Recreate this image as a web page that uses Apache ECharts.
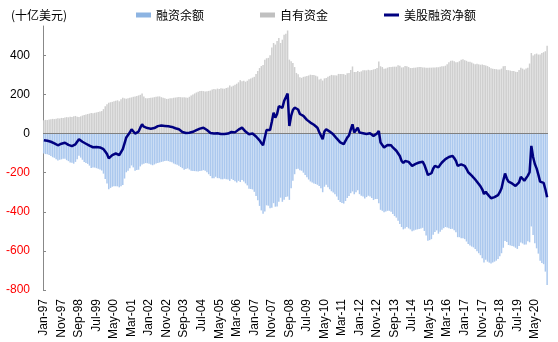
<!DOCTYPE html>
<html>
<head>
<meta charset="utf-8">
<script src="https://cdn.jsdelivr.net/npm/echarts@6/dist/echarts.min.js"></script>
<style>
html,body{margin:0;padding:0;background:#fff;}
#chart{width:558px;height:342px;}
</style>
</head>
<body>
<div id="chart"></div>
<script>
// Month labels Jan-97 ... Dec-20
const monthNames = ['Jan','Feb','Mar','Apr','May','Jun','Jul','Aug','Sep','Oct','Nov','Dec'];
const categories = [];
for (let y = 1997; y <= 2020; y++) {
  for (let m = 0; m < 12; m++) categories.push(monthNames[m] + '-' + String(y % 100).padStart(2, '0'));
}

const yTicks = [-800, -600, -400, -200, 0, 200, 400];

// 融资余额 (十亿美元, negative)
const marginDebt = [
-102,-105,-106,-110,-115,-121,-124,-131,-138,-134,-132,-129,
-129,-136,-141,-148,-149,-154,-145,-131,-113,-123,-134,-145,
-150,-155,-164,-176,-174,-174,-177,-180,-184,-189,-205,-232,
-255,-285,-278,-272,-270,-270,-270,-275,-270,-263,-230,-198,
-190,-178,-163,-173,-190,-187,-185,-168,-158,-155,-151,-152,
-154,-158,-162,-158,-153,-151,-148,-145,-143,-141,-139,-141,
-144,-147,-153,-157,-160,-165,-171,-177,-185,-181,-178,-184,
-190,-191,-192,-193,-194,-192,-190,-187,-190,-198,-208,-217,
-229,-228,-221,-228,-228,-234,-234,-231,-234,-235,-242,-232,
-237,-244,-250,-242,-248,-238,-245,-255,-265,-282,-284,-286,
-298,-320,-341,-370,-393,-410,-398,-367,-369,-382,-380,-356,
-374,-373,-349,-328,-349,-339,-325,-322,-339,-280,-241,-208,
-182,-180,-188,-190,-200,-212,-224,-235,-245,-250,-255,-258,
-262,-268,-280,-300,-272,-262,-275,-285,-295,-302,-310,-322,
-340,-350,-355,-358,-345,-330,-320,-305,-296,-310,-300,-290,
-310,-318,-322,-332,-325,-318,-322,-330,-340,-335,-335,-356,
-390,-395,-402,-398,-395,-395,-400,-412,-422,-430,-446,-462,
-478,-490,-485,-478,-485,-490,-500,-496,-492,-490,-488,-486,
-482,-498,-522,-548,-545,-540,-518,-503,-495,-512,-502,-492,
-484,-478,-480,-484,-488,-487,-495,-505,-530,-530,-535,-536,
-540,-552,-565,-572,-578,-582,-590,-602,-612,-622,-638,-660,
-645,-655,-660,-665,-660,-655,-650,-642,-628,-612,-584,-550,
-555,-570,-572,-575,-578,-584,-590,-575,-557,-562,-568,-568,
-551,-556,-475,-519,-561,-587,-614,-650,-662,-668,-706,-775
];

// 自有资金 (十亿美元)
const freeCredit = [
68,70,69,72,73,75,74,76,78,77,80,79,
82,84,83,86,85,88,90,86,84,88,92,95,
98,100,102,105,104,106,108,110,113,115,125,140,
150,158,160,162,165,168,170,165,175,183,180,178,
180,183,185,188,190,192,195,198,205,190,181,180,
182,183,184,186,188,189,190,186,183,180,177,178,
180,181,183,184,185,187,186,185,185,184,183,188,
195,200,205,210,214,217,218,217,215,216,218,220,
225,228,226,230,228,232,230,229,233,235,246,240,
245,250,255,262,273,268,270,265,270,278,282,286,
290,305,320,335,345,350,378,385,387,400,440,463,
455,473,489,463,480,505,510,527,378,370,361,340,
310,303,288,285,290,292,294,297,301,300,300,296,
292,276,280,271,282,284,290,295,300,298,298,297,
305,305,305,304,300,309,310,325,343,315,315,320,
315,318,324,324,323,326,324,325,328,330,335,369,
344,340,331,333,337,340,340,341,342,342,349,347,
338,339,345,344,340,335,335,336,337,339,340,340,
338,338,337,336,337,337,338,338,339,339,342,344,
344,347,355,364,372,373,370,365,365,370,377,380,
375,372,367,367,363,358,355,357,354,352,353,351,
348,345,340,334,332,330,329,327,328,332,344,346,
325,324,322,320,320,316,315,325,336,332,327,333,
336,358,412,399,405,409,404,404,412,416,421,449
];

// 美股融资净额 (十亿美元)
const netBalance = [
-34,-35,-37,-38,-42,-46,-50,-55,-60,-57,-52,-50,
-47,-52,-58,-62,-64,-66,-55,-45,-29,-35,-42,-50,
-52,-55,-62,-71,-70,-68,-69,-70,-71,-74,-80,-92,
-105,-127,-118,-110,-105,-102,-100,-110,-95,-80,-50,-20,
-10,5,22,15,0,5,10,30,47,35,30,28,
28,25,22,28,35,38,42,41,40,39,38,37,
36,34,30,27,25,22,15,8,0,3,5,4,
5,9,13,17,20,25,28,30,25,18,10,3,
-4,0,5,2,0,-2,-4,-2,-1,0,4,8,
8,6,5,20,25,30,25,10,5,-4,-2,0,
-8,-15,-21,-35,-48,-60,-20,18,18,18,60,107,
81,100,140,135,131,166,185,205,39,90,120,132,
128,123,100,95,90,80,70,62,56,50,45,38,
30,8,0,-29,10,22,15,10,5,-4,-12,-25,
-35,-45,-50,-54,-45,-21,-10,20,47,5,15,30,
5,0,2,-8,-2,8,2,-5,-12,-5,0,13,
-46,-55,-71,-65,-58,-55,-60,-71,-80,-88,-97,-115,
-140,-151,-140,-134,-145,-155,-165,-160,-155,-151,-148,-146,
-144,-160,-185,-212,-208,-203,-180,-165,-156,-173,-160,-148,
-140,-131,-125,-120,-116,-114,-125,-140,-165,-160,-158,-156,
-165,-180,-198,-205,-215,-224,-235,-245,-258,-270,-285,-309,
-297,-310,-320,-331,-328,-325,-321,-315,-300,-280,-240,-204,
-230,-246,-250,-255,-258,-268,-275,-250,-221,-230,-241,-235,
-215,-198,-63,-120,-156,-178,-210,-246,-250,-252,-285,-326
];

const chart = echarts.init(document.getElementById('chart'), null, {renderer: 'canvas'});
const FONT = '"Liberation Sans", Arial, sans-serif';
const CJK = '"Noto Sans CJK SC", sans-serif';

chart.setOption({
  animation: false,
  backgroundColor: '#fff',
  title: {
    text: '(十亿美元)',
    left: 6, top: 4,
    textStyle: {fontFamily: CJK, fontSize: 12, fontWeight: 'normal', color: '#000'}
  },
  legend: {
    left: 131, top: 4,
    itemWidth: 15, itemHeight: 5, itemGap: 56,
    textStyle: {fontFamily: CJK, fontSize: 12, color: '#000'},
    data: [
      {name: '融资余额', icon: 'rect', itemStyle: {color: '#8DB4E2'}},
      {name: '自有资金', icon: 'rect', itemStyle: {color: '#C0C0C0'}},
      {name: '美股融资净额', icon: 'path://M0,0H15V3H0Z', itemStyle: {color: '#000080'}}
    ]
  },
  grid: {left: 43, right: 10, top: 26, height: 265.5},
  xAxis: {
    type: 'category',
    data: categories,
    boundaryGap: true,
    axisLine: {show: false},
    axisTick: {show: false},
    axisLabel: {
      interval: 9, rotate: 90, margin: 9,
      fontFamily: FONT, fontSize: 12, color: '#000'
    },
    splitLine: {show: false}
  },
  yAxis: {
    type: 'value',
    min: yTicks[0], max: 550, interval: 200,
    axisLine: {show: true, lineStyle: {color: '#888', width: 1}},
    axisTick: {show: true, inside: true, length: 3, lineStyle: {color: '#888'}},
    axisLabel: {
      showMaxLabel: false, margin: 13,
      fontFamily: FONT, fontSize: 12,
      color: function (v) { return Number(v) < 0 ? '#FF0000' : '#000'; }
    },
    splitLine: {show: false}
  },
  series: [
    {
      name: '融资余额', type: 'bar', data: marginDebt,
      barGap: '-100%', barCategoryGap: '15%',
      itemStyle: {color: '#ABC8EE'}, z: 2
    },
    {
      name: '自有资金', type: 'bar', data: freeCredit,
      barGap: '-100%', barCategoryGap: '15%',
      itemStyle: {color: '#CFCFCF'}, z: 2
    },
    {
      name: '美股融资净额', type: 'line', data: netBalance,
      symbol: 'none', smooth: false,
      lineStyle: {color: '#000080', width: 2.5},
      itemStyle: {color: '#000080'},
      z: 5,
      markLine: {
        silent: true, symbol: ['none', 'none'],
        label: {show: false},
        lineStyle: {color: '#808080', width: 1, type: 'solid'},
        data: [{yAxis: 0}],
        z: 3
      }
    }
  ]
});
</script>
</body>
</html>
